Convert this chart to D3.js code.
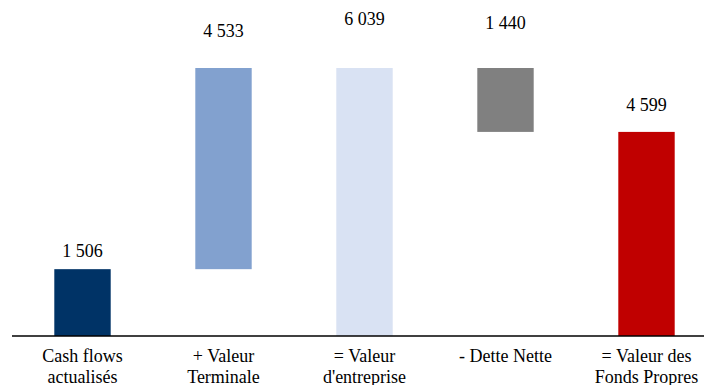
<!DOCTYPE html>
<html>
<head>
<meta charset="utf-8">
<script src="https://cdn.jsdelivr.net/npm/d3@7"></script>
<style>
    html, body { margin: 0; padding: 0; background: #fff; overflow: hidden; }
</style>
</head>
<body>
<svg class="chart"></svg>
<script>
// waterfall: each step has a start and an end value
let categories = [
    ["Cash flows", "actualisés"],
    ["+ Valeur", "Terminale"],
    ["= Valeur", "d'entreprise"],
    ["- Dette Nette"],
    ["= Valeur des", "Fonds Propres"]
]
let starts = [0, 1506, 0, 6039, 0]
let ends = [1506, 6039, 6039, 4599, 4599]
let labels = ["1 506", "4 533", "6 039", "1 440", "4 599"]
let colors = ["#003366", "#82A1CF", "#D9E2F3", "#808080", "#C00000"]

// labels were placed by hand in the original, not at a fixed gap
let label_lift = [12, 31, 43, 39, 21]

let width = 705
let height = 385
let font = "Liberation Serif"

let svg = d3.select(".chart")
    .attr("width", width)
    .attr("height", height)

let x = d3.scaleBand()
    .domain(d3.range(categories.length))
    .range([12, 717])
    .paddingInner(0.6)
    .paddingOuter(0.3)

let y = d3.scaleLinear()
    .domain([0, 6039])
    .range([336, 68])

let steps = categories.map((c, i) => {
    return {
        i: i,
        lines: c,
        lo: Math.min(starts[i], ends[i]),
        hi: Math.max(starts[i], ends[i]),
        label: labels[i],
        color: colors[i]
    }
})

svg.selectAll("rect.bar")
    .data(steps)
    .enter().append("rect")
    .classed("bar", true)
    .attr("x", d => x(d.i))
    .attr("width", x.bandwidth())
    .attr("y", d => y(d.hi))
    .attr("height", d => y(d.lo) - y(d.hi))
    .attr("fill", d => d.color)

svg.selectAll("text.value")
    .data(steps)
    .enter().append("text")
    .classed("value", true)
    .attr("x", d => x(d.i) + x.bandwidth() / 2)
    .attr("y", d => y(d.hi) - label_lift[d.i])
    .attr("text-anchor", "middle")
    .style("font-family", font)
    .style("font-size", "18px")
    .attr("fill", "#000")
    .text(d => d.label)

// baseline
svg.append("line")
    .attr("x1", 12)
    .attr("x2", 704)
    .attr("y1", y(0))
    .attr("y2", y(0))
    .attr("stroke", "#000")
    .attr("stroke-width", 1.6)

let cats = svg.selectAll("text.cat")
    .data(steps)
    .enter().append("text")
    .classed("cat", true)
    .attr("text-anchor", "middle")
    .style("font-family", font)
    .style("font-size", "18px")
    .attr("fill", "#000")

cats.selectAll("tspan")
    .data(d => d.lines.map((l, k) => ({ text: l, k: k, i: d.i })))
    .enter().append("tspan")
    .attr("x", d => x(d.i) + x.bandwidth() / 2)
    .attr("y", d => y(0) + 26 + d.k * 21)
    .text(d => d.text)
</script>
</body>
</html>
